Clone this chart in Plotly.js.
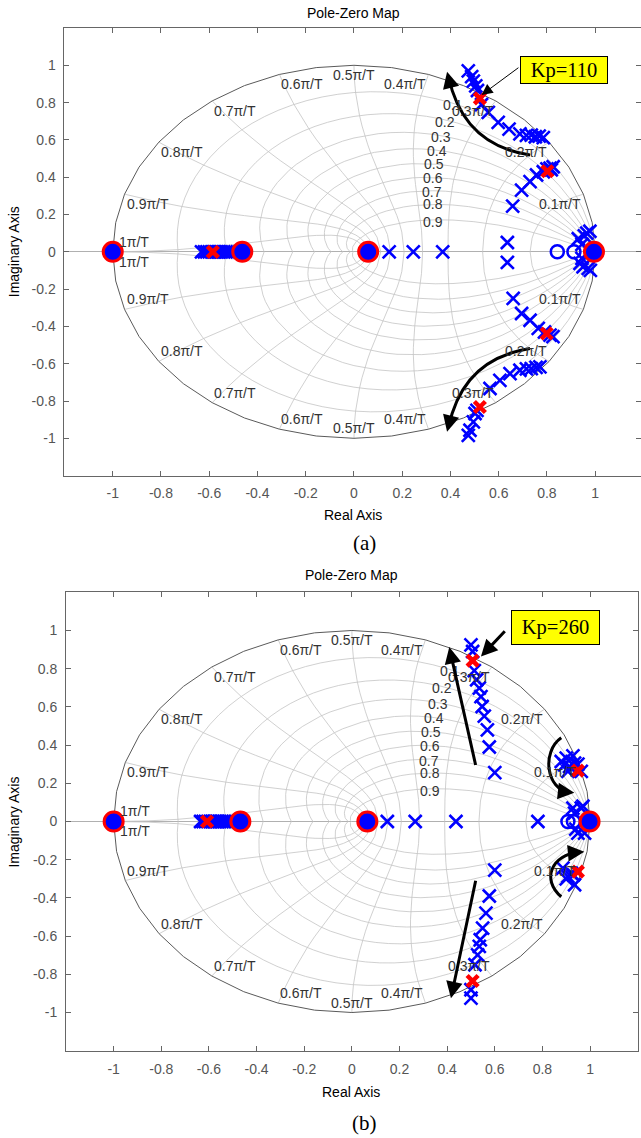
<!DOCTYPE html>
<html><head><meta charset="utf-8">
<script src="https://cdn.plot.ly/plotly-3.0.1.min.js"></script>
<style>html,body{margin:0;padding:0;background:#fff}#chart{width:641px;height:1138px}</style>
</head><body><div id="chart"></div>
<script>
// ---------- tick labels ----------
const xTickVals = [-1,-0.8,-0.6,-0.4,-0.2,0,0.2,0.4,0.6,0.8,1];
const xTickText = ['-1','-0.8','-0.6','-0.4','-0.2','0','0.2','0.4','0.6','0.8','1'];
const yTickVals = [-1,-0.8,-0.6,-0.4,-0.2,0,0.2,0.4,0.6,0.8,1];
const yTickText = ['-1','-0.8','-0.6','-0.4','-0.2','0','0.2','0.4','0.6','0.8','1'];

// ---------- z-plane grid (zgrid) parameters ----------
const zetaLines = [0.1,0.2,0.3,0.4,0.5,0.6,0.7,0.8,0.9];
const zetaLabels = ['0.1','0.2','0.3','0.4','0.5','0.6','0.7','0.8','0.9'];
const zetaLabelRe = [0.410,0.377,0.361,0.343,0.332,0.326,0.322,0.326,0.326];
const zetaLabelIm = [0.788,0.698,0.617,0.542,0.469,0.394,0.319,0.254,0.161];
const wnLines = [0.1,0.2,0.3,0.4,0.5,0.6,0.7,0.8,0.9,1.0];   // x pi/T
const wnLabels = ['0.1\u03c0/T','0.2\u03c0/T','0.3\u03c0/T','0.4\u03c0/T','0.5\u03c0/T','0.6\u03c0/T','0.7\u03c0/T','0.8\u03c0/T','0.9\u03c0/T','1\u03c0/T'];

// ---------- (a) Kp = 110 ----------
const aPoleRe = [
  0.474,0.488,0.495,0.505,0.512,0.529,0.557,0.598,0.643,0.688,0.715,0.735,0.752,0.768,0.785,
  0.658,0.695,0.730,0.757,0.785,0.800,0.813,0.826,0.818,
  0.474,0.481,0.495,0.502,0.510,0.564,0.605,0.647,0.688,0.715,0.735,0.755,0.771,
  0.660,0.695,0.730,0.764,0.790,0.813,0.825,
  0.146,0.246,0.368,0.636,0.636,
  0.930,0.945,0.955,0.965,0.978,0.937,0.950,0.971,0.980,0.945,
  -0.632,-0.620,-0.610,-0.600,-0.590,-0.580,-0.570,-0.560,-0.550,-0.540,-0.530,-0.520,-0.512];
const aPoleIm = [
  0.970,0.939,0.915,0.890,0.865,0.790,0.748,0.694,0.658,0.632,0.624,0.626,0.617,0.620,0.612,
  0.245,0.331,0.376,0.412,0.429,0.445,0.448,0.456,0.440,
  -0.984,-0.957,-0.912,-0.867,-0.850,-0.733,-0.689,-0.653,-0.635,-0.628,-0.626,-0.620,-0.617,
  -0.250,-0.331,-0.367,-0.411,-0.430,-0.447,-0.455,
  0,0,0,0.050,-0.057,
  0.070,0.040,0.085,0.100,0.110,-0.062,-0.080,-0.089,-0.100,-0.035,
  0,0,0,0,0,0,0,0,0,0,0,0,0];
const aKpRe = [0.522,0.802,0.522,0.799,-0.585];
const aKpIm = [0.823,0.432,-0.832,-0.438,0];
const aZeroRe = [0.843,0.912];
const aZeroIm = [0,0];
const aRingRe = [-1,-0.463,0.059,0.995];
const aRingIm = [0,0,0,0];

// ---------- (b) Kp = 260 ----------
const bPoleRe = [
  0.500,0.507,0.514,0.524,0.535,0.542,0.547,0.556,0.569,0.577,0.600,
  0.900,0.928,0.893,0.914,0.935,0.907,0.879,0.963,0.949,
  0.500,0.500,0.517,0.528,0.535,0.539,0.549,0.563,0.577,0.600,
  0.886,0.907,0.935,0.921,0.900,0.930,
  0.149,0.266,0.437,0.781,
  0.935,0.963,0.928,0.970,0.949,0.977,0.940,
  -0.635,-0.625,-0.615,-0.605,-0.595,-0.585,-0.575,-0.565,-0.555,-0.545,-0.535,-0.525,-0.515];
const bPoleIm = [
  0.925,0.890,0.790,0.742,0.698,0.654,0.602,0.552,0.480,0.390,0.256,
  0.332,0.344,0.297,0.288,0.306,0.262,0.314,0.262,0.300,
  -0.925,-0.881,-0.750,-0.698,-0.654,-0.619,-0.558,-0.480,-0.390,-0.255,
  -0.244,-0.288,-0.331,-0.270,-0.300,-0.280,
  0,0,0,0,
  0.044,0.070,0.070,0.080,-0.061,-0.061,-0.040,
  0,0,0,0,0,0,0,0,0,0,0,0,0];
const bKpRe = [0.507,0.949,0.507,0.949,-0.608];
const bKpIm = [0.842,0.266,-0.835,-0.262,0];
const bZeroRe = [0.907,0.930];
const bZeroIm = [0,0];
const bRingRe = [-1,-0.468,0.065,0.998];
const bRingIm = [0,0,0,0];

// ---------- helpers ----------
const FONT = 'Liberation Sans, Arial, Helvetica, sans-serif';
const SERIF = 'Liberation Serif, Times New Roman, serif';
const PI = Math.PI;

function gridXY(){
  const x=[], y=[];
  zetaLines.forEach(z=>{
    const m = z/Math.sqrt(1-z*z);
    [1,-1].forEach(s=>{
      for(let i=0;i<=40;i++){const t=i*PI/40, r=Math.exp(-m*t); x.push(r*Math.cos(t)); y.push(s*r*Math.sin(t));}
      x.push(null); y.push(null);
    });
  });
  wnLines.forEach(w=>{
    const wn = w*PI;
    [1,-1].forEach(s=>{
      for(let i=0;i<=20;i++){const z=i/20, r=Math.exp(-wn*z), t=wn*Math.sqrt(1-z*z); x.push(r*Math.cos(t)); y.push(s*r*Math.sin(t));}
      x.push(null); y.push(null);
    });
  });
  return {x,y};
}
function circleXY(){
  const x=[], y=[];
  for(let i=0;i<=40;i++){const t=i*PI/20; x.push(Math.cos(t)); y.push(Math.sin(t));}
  return {x,y};
}

function panelTraces(xa, ya, pRe, pIm, zRe, zIm, kRe, kIm, rRe, rIm){
  const g = gridXY(), c = circleXY();
  return [
    {x:g.x, y:g.y, xaxis:xa, yaxis:ya, mode:'lines', line:{color:'#c4c4c4', width:0.8}, hoverinfo:'skip', connectgaps:false},
    {x:c.x, y:c.y, xaxis:xa, yaxis:ya, mode:'lines', line:{color:'#5a5a5a', width:1}, hoverinfo:'skip'},
    {x:zRe, y:zIm, xaxis:xa, yaxis:ya, mode:'markers', marker:{symbol:'circle-open', size:13, color:'#0000ff', line:{color:'#0000ff', width:2.5}}},
    {x:pRe, y:pIm, xaxis:xa, yaxis:ya, mode:'markers', marker:{symbol:'x-thin-open', size:13, color:'#0000ff', line:{color:'#0000ff', width:2.6}}},
    {x:kRe, y:kIm, xaxis:xa, yaxis:ya, mode:'markers', marker:{symbol:'x-thin-open', size:11, color:'#ff0000', line:{color:'#ff0000', width:4.5}}},
    {x:rRe, y:rIm, xaxis:xa, yaxis:ya, mode:'markers', marker:{symbol:'circle', size:19, color:'#0000ff', line:{color:'#ff0000', width:3}}}
  ];
}

function labelAnns(xr, yr){
  const anns=[];
  wnLines.forEach((w,k)=>{
    const ang=w*PI, cx=Math.cos(ang), cy=(w===1?0:Math.sin(ang));
    const xa = w<0.5?'right':(w===0.5?'center':'left');
    anns.push({x:cx, y:cy, xref:xr, yref:yr, text:wnLabels[k], showarrow:false, xanchor:xa, yanchor:(w===1?'bottom':'top'), xshift:(w===1?4:0), font:{family:FONT,size:14,color:'#333'}});
    anns.push({x:cx, y:-cy, xref:xr, yref:yr, text:wnLabels[k], showarrow:false, xanchor:xa, yanchor:(w===1?'top':'bottom'), xshift:(w===1?4:0), font:{family:FONT,size:14,color:'#333'}});
  });
  zetaLabels.forEach((t,i)=>{
    anns.push({x:zetaLabelRe[i], y:zetaLabelIm[i], xref:xr, yref:yr, text:t, showarrow:false, xanchor:'center', yanchor:'middle', font:{family:FONT,size:14,color:'#333'}});
  });
  return anns;
}

function axisX(domain, range, anchor){
  return {domain, range, anchor, tickmode:'array', tickvals:xTickVals, ticktext:xTickText, ticks:'inside', ticklen:5, tickwidth:1, tickcolor:'#666',
    mirror:'allticks', showline:true, linecolor:'#666', linewidth:1, showgrid:false, zeroline:false,
    tickfont:{family:FONT,size:14,color:'#555'}, ticklabelstandoff:5, fixedrange:true};
}
function axisY(domain, anchor){
  return {domain, range:[-1.2,1.2], anchor, tickmode:'array', tickvals:yTickVals, ticktext:yTickText, ticks:'inside', ticklen:5, tickwidth:1, tickcolor:'#666',
    mirror:'allticks', showline:true, linecolor:'#666', linewidth:1, showgrid:false, zeroline:true, zerolinecolor:'#b0b0b0', zerolinewidth:1,
    tickfont:{family:FONT,size:14,color:'#555'}, ticklabelstandoff:5, fixedrange:true};
}

const traces = [].concat(
  panelTraces('x','y', aPoleRe,aPoleIm, aZeroRe,aZeroIm, aKpRe,aKpIm, aRingRe,aRingIm),
  panelTraces('x2','y2', bPoleRe,bPoleIm, bZeroRe,bZeroIm, bKpRe,bKpIm, bRingRe,bRingIm)
);

const txt = (x,y,t,opt)=>Object.assign({x,y,xref:'paper',yref:'paper',text:t,showarrow:false,xanchor:'center',yanchor:'middle',font:{family:FONT,size:14,color:'#000'}},opt||{});
const head = (xr,yr,x,y,ax,ay)=>({x,y,xref:xr,yref:yr,ax,ay,text:'',showarrow:true,arrowhead:2,arrowsize:1.1,arrowwidth:3,arrowcolor:'#000'});
const straight = (xr,yr,x,y,ax,ay,w,s)=>({x,y,xref:xr,yref:yr,ax,ay,axref:xr,ayref:yr,text:'',showarrow:true,arrowhead:2,arrowsize:s,arrowwidth:w,arrowcolor:'#000'});

const annotations = [].concat(
  labelAnns('x','y'),
  labelAnns('x2','y2'),
  [
    txt(0.5515,0.9888,'Pole-Zero Map'),
    txt(0.5507,0.5475,'Real Axis'),
    txt(0.0211,0.7788,'Imaginary Axis',{textangle:-90}),
    txt(0.5686,0.5228,'(a)',{font:{family:SERIF,size:21,color:'#000'}}),
    txt(0.5482,0.4947,'Pole-Zero Map'),
    txt(0.5473,0.0407,'Real Axis'),
    txt(0.0218,0.2780,'Imaginary Axis',{textangle:-90}),
    txt(0.5686,0.0132,'(b)',{font:{family:SERIF,size:21,color:'#000'}}),
    // (a) annotations
    straight('x','y',0.529,0.841,0.688,0.993,1,2.2),
    {x:0.871,y:0.975,xref:'x',yref:'y',text:'Kp=110',showarrow:false,bgcolor:'#ffff00',bordercolor:'#000',borderwidth:1,borderpad:0,width:86,height:26,font:{family:SERIF,size:20.5,color:'#000'}},
    head('x','y',0.386,0.965,3,12),
    head('x','y',0.386,-0.965,3,-12),
    // (b) annotations
    straight('x2','y2',0.542,0.864,0.648,1.004,3,1.1),
    {x:0.857,y:1.017,xref:'x2',yref:'y2',text:'Kp=260',showarrow:false,bgcolor:'#ffff00',bordercolor:'#000',borderwidth:1,borderpad:0,width:87,height:33,font:{family:SERIF,size:20.5,color:'#000'}},
    straight('x2','y2',0.409,0.913,0.521,0.288,3,1.1),
    straight('x2','y2',0.416,-0.925,0.521,-0.302,3,1.1),
    head('x2','y2',0.934,0.150,-12,-1.3),
    head('x2','y2',0.976,-0.158,-12,1.1)
  ]
);

const pathShape = (xr,yr,p)=>({type:'path',xref:xr,yref:yr,path:p,line:{color:'#000',width:3},fillcolor:'rgba(0,0,0,0)',layer:'above'});
const shapes = [
  pathShape('x','y','M 0.730,0.519 Q 0.452,0.573 0.392,0.94'),
  pathShape('x','y','M 0.730,-0.519 Q 0.452,-0.573 0.392,-0.94'),
  pathShape('x2','y2','M 0.879,0.438 C 0.795,0.365 0.816,0.166 0.915,0.152'),
  pathShape('x2','y2','M 0.879,-0.394 C 0.795,-0.305 0.837,-0.174 0.955,-0.160')
];

const layout = {
  width:641, height:1138, margin:{l:0,r:0,t:0,b:0}, showlegend:false,
  paper_bgcolor:'#fff', plot_bgcolor:'#fff', hovermode:false,
  xaxis: axisX([0.10062,1],[-1.2,1.19],'y'),
  yaxis: axisY([0.58207,0.97540],'x'),
  xaxis2: axisX([0.10296,0.99485],[-1.2,1.2],'y2'),
  yaxis2: axisY([0.07671,0.47953],'x2'),
  annotations, shapes
};

Plotly.newPlot('chart', traces, layout, {displayModeBar:false, staticPlot:true});
</script>
</body></html>
